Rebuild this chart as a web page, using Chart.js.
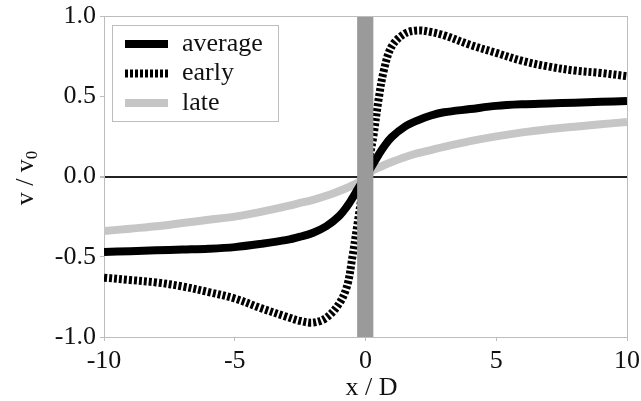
<!DOCTYPE html>
<html>
<head>
<meta charset="utf-8">
<script src="https://cdn.jsdelivr.net/npm/chart.js@4.4.1/dist/chart.umd.min.js"></script>
<style>
  html, body { margin: 0; padding: 0; background: #fff; }
  #wrap { width: 641px; height: 401px; position: relative; }
</style>
</head>
<body>
<div id="wrap"><canvas id="velChart"></canvas></div>
<script>
// x / D sample positions
var xPos = [-10, -9, -8, -7, -6, -5, -4, -3, -2.5, -2, -1.5, -1, -0.7, -0.5, -0.3, -0.15,
            0, 0.15, 0.3, 0.5, 0.7, 1, 1.5, 2, 2.5, 3, 4, 5, 6, 7, 8, 9, 10];

// v / v0
var averageVals = [-0.47, -0.465, -0.46, -0.455, -0.45, -0.44, -0.42, -0.395, -0.375, -0.35, -0.31, -0.245, -0.185, -0.135, -0.08, -0.04,
                   0, 0.04, 0.08, 0.135, 0.185, 0.245, 0.31, 0.35, 0.38, 0.40, 0.42, 0.44, 0.45, 0.455, 0.46, 0.465, 0.47];
var earlyVals   = [-0.63, -0.645, -0.66, -0.685, -0.72, -0.76, -0.82, -0.875, -0.90, -0.91, -0.88, -0.79, -0.68, -0.50, -0.29, -0.13,
                   0, 0.12, 0.25, 0.48, 0.66, 0.81, 0.89, 0.91, 0.90, 0.88, 0.82, 0.77, 0.72, 0.685, 0.66, 0.645, 0.625];
var lateVals    = [-0.34, -0.325, -0.31, -0.29, -0.27, -0.25, -0.22, -0.185, -0.165, -0.145, -0.12, -0.09, -0.07, -0.055, -0.04, -0.02,
                   0, 0.02, 0.04, 0.055, 0.07, 0.09, 0.12, 0.145, 0.165, 0.185, 0.22, 0.25, 0.275, 0.295, 0.31, 0.325, 0.34];

var seriesNames = ["average", "early", "late"];
var xTicks = [-10, -5, 0, 5, 10];
var yTicks = [-1.0, -0.5, 0.0, 0.5, 1.0];
var bandFrom = -0.32, bandTo = 0.3;   // shaded strip around x = 0

var FONT = "'Liberation Serif', 'Times New Roman', serif";

function pts(vals) {
  return xPos.map(function (x, i) { return { x: x, y: vals[i] }; });
}

var styles = [
  { color: "#000000", dash: [] },
  { color: "#000000", dash: [3, 2] },
  { color: "#c6c6c6", dash: [] }
];

var datasets = [averageVals, earlyVals, lateVals].map(function (vals, i) {
  return {
    label: seriesNames[i],
    data: pts(vals),
    borderColor: styles[i].color,
    borderDash: styles[i].dash,
    borderWidth: 8,
    borderCapStyle: "butt",
    pointRadius: 0,
    tension: 0.35,
    fill: false
  };
});

// frame, strip, legend and axis titles
var decor = {
  id: "decor",
  beforeDatasetsDraw: function (chart) {
    var a = chart.chartArea, ctx = chart.ctx;
    ctx.save();
    ctx.strokeStyle = "#bdbdbd";
    ctx.lineWidth = 1;
    ctx.strokeRect(a.left + 0.5, a.top + 0.5, a.right - a.left, a.bottom - a.top);
    ctx.restore();
  },
  afterDatasetsDraw: function (chart) {
    var a = chart.chartArea, ctx = chart.ctx;
    var xs = chart.scales.x;
    ctx.save();
    // gray strip
    var x0 = xs.getPixelForValue(bandFrom), x1 = xs.getPixelForValue(bandTo);
    ctx.fillStyle = "#9a9a9a";
    ctx.fillRect(x0, a.top + 1, x1 - x0, a.bottom - a.top - 1);

    // legend
    var bx = 112, by = 25, bw = 166, bh = 96;
    ctx.fillStyle = "#ffffff";
    ctx.fillRect(bx, by, bw, bh);
    ctx.strokeStyle = "#bdbdbd";
    ctx.lineWidth = 1;
    ctx.strokeRect(bx + 0.5, by + 0.5, bw, bh);
    ctx.font = "26px " + FONT;
    ctx.textBaseline = "middle";
    ctx.textAlign = "left";
    chart.data.datasets.forEach(function (ds, i) {
      var yy = 44 + i * 29.5;
      ctx.beginPath();
      ctx.setLineDash(ds.borderDash || []);
      ctx.strokeStyle = ds.borderColor;
      ctx.lineWidth = 8;
      ctx.lineCap = "butt";
      ctx.moveTo(125, yy);
      ctx.lineTo(168, yy);
      ctx.stroke();
      ctx.setLineDash([]);
      ctx.fillStyle = "#111";
      ctx.fillText(ds.label, 182, yy);
    });

    // axis titles
    ctx.fillStyle = "#111";
    ctx.textAlign = "center";
    ctx.fillText("x / D", (a.left + a.right) / 2 + 6, 388);

    ctx.translate(26, 178);
    ctx.rotate(-Math.PI / 2);
    ctx.textAlign = "left";
    var main = "v / v";
    var w = ctx.measureText(main).width;
    ctx.font = "17px " + FONT;
    var ws = ctx.measureText("0").width;
    var startX = -(w + ws) / 2;
    ctx.font = "26px " + FONT;
    ctx.fillText(main, startX, 0);
    ctx.font = "17px " + FONT;
    ctx.fillText("0", startX + w, 7);
    ctx.restore();
  }
};

new Chart(document.getElementById("velChart").getContext("2d"), {
  type: "line",
  data: { datasets: datasets },
  options: {
    responsive: true,
    maintainAspectRatio: false,
    animation: false,
    layout: { padding: { top: 16, right: 14, left: 0, bottom: 0 } },
    plugins: { legend: { display: false }, tooltip: { enabled: false } },
    scales: {
      x: {
        type: "linear",
        min: -10, max: 10,
        afterBuildTicks: function (s) { s.ticks = xTicks.map(function (v) { return { value: v }; }); },
        afterFit: function (s) { s.height = 401 - 337; s.paddingLeft = 0; s.paddingRight = 0; },
        ticks: { color: "#111", font: { family: FONT, size: 26 }, padding: 5, maxRotation: 0,
                 callback: function (v) { return String(v); } },
        grid: { display: true, drawOnChartArea: false, tickLength: 4, color: "#bdbdbd" },
        border: { color: "#bdbdbd" }
      },
      y: {
        min: -1, max: 1,
        afterBuildTicks: function (s) { s.ticks = yTicks.map(function (v) { return { value: v }; }); },
        afterFit: function (s) { s.width = 104; s.paddingTop = 0; s.paddingBottom = 0; },
        ticks: { color: "#111", font: { family: FONT, size: 26 }, padding: 4,
                 callback: function (v) { return v.toFixed(1); } },
        grid: {
          tickLength: 4,
          color: function (c) { return c.tick && c.tick.value === 0 ? "#222" : "rgba(0,0,0,0)"; },
          lineWidth: function (c) { return c.tick && c.tick.value === 0 ? 2 : 1; },
          tickColor: "#bdbdbd"
        },
        border: { color: "#bdbdbd" }
      }
    }
  },
  plugins: [decor]
});
</script>
</body>
</html>
